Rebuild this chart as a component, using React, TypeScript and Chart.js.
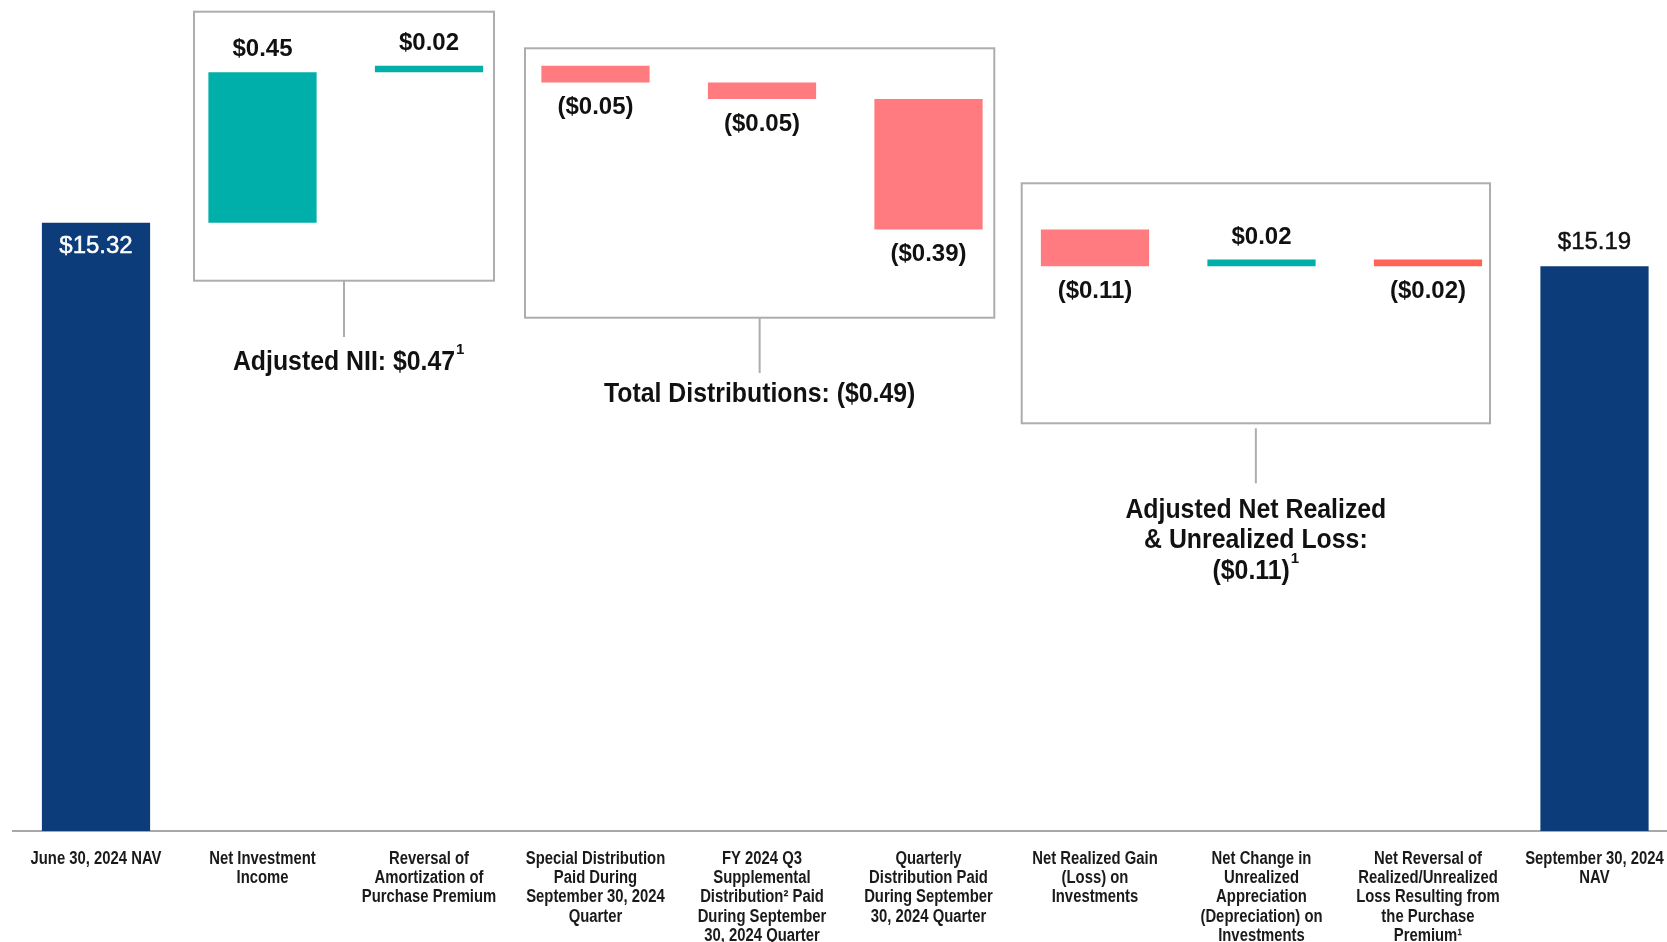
import React, { useEffect, useRef } from "react";
import { Chart, registerables } from "chart.js";

Chart.register(...registerables);

// ---------- data ----------
const categories: string[][] = [
  ["June 30, 2024 NAV"],
  ["Net Investment", "Income"],
  ["Reversal of", "Amortization of", "Purchase Premium"],
  ["Special Distribution", "Paid During", "September 30, 2024", "Quarter"],
  ["FY 2024 Q3", "Supplemental", "Distribution² Paid", "During September", "30, 2024 Quarter"],
  ["Quarterly", "Distribution Paid", "During September", "30, 2024 Quarter"],
  ["Net Realized Gain", "(Loss) on", "Investments"],
  ["Net Change in", "Unrealized", "Appreciation", "(Depreciation) on", "Investments"],
  ["Net Reversal of", "Realized/Unrealized", "Loss Resulting from", "the Purchase", "Premium¹"],
  ["September 30, 2024", "NAV"],
];
const startNav = 15.32;
const endNav = 15.19;
const changes = [0.45, 0.02, -0.05, -0.05, -0.39, -0.11, 0.02, -0.02];
const valueLabels = ["$15.32", "$0.45", "$0.02", "($0.05)", "($0.05)", "($0.39)", "($0.11)", "$0.02", "($0.02)", "$15.19"];
const barColors = ["#0D3C7A", "#00AFA9", "#00AFA9", "#FF7B7F", "#FF7B7F", "#FF7B7F", "#FF7B7F", "#00AFA9", "#FF6356", "#0D3C7A"];
const groupTitles: string[][] = [
  ["Adjusted NII: $0.47"],
  ["Total Distributions: ($0.49)"],
  ["Adjusted Net Realized", "& Unrealized Loss:", "($0.11)"],
];
const groupSuperscripts = ["1", "", "1"];

// ---------- layout (pixels) ----------
const W = 1690;
const H = 942;
const boxes = [
  { l: 194, r: 494, t: 11.7, b: 280.7, lineTop: 280.7, lineBottom: 337, textY: 362.5, lineGap: 30.5, centerGroup: false },
  { l: 525, r: 994.3, t: 48.3, b: 317.7, lineTop: 317.7, lineBottom: 373, textY: 394.5, lineGap: 30.5, centerGroup: false },
  { l: 1021.7, r: 1490, t: 183.3, b: 423.3, lineTop: 428.3, lineBottom: 483.3, textY: 510.5, lineGap: 30.5, centerGroup: true },
];

// build floating bar ranges from the named arrays
function buildRanges(): (number | [number, number])[] {
  const out: (number | [number, number])[] = [startNav];
  let level = startNav;
  for (const c of changes) {
    const next = Math.round((level + c) * 100) / 100;
    out.push([level, next]);
    level = next;
  }
  out.push(endNav);
  return out;
}

const LABEL_FONT = "'Liberation Sans', Arial, sans-serif";
const TITLE_SCALE = 0.92;
const TICK_SCALE = 0.825;

function drawScaledText(ctx: CanvasRenderingContext2D, text: string, x: number, y: number, sx: number, align: CanvasTextAlign) {
  ctx.save();
  ctx.translate(x, y);
  ctx.scale(sx, 1);
  ctx.textAlign = align;
  ctx.fillText(text, 0, 0);
  ctx.restore();
}

const overlayPlugin = {
  id: "waterfallOverlay",
  afterDatasetsDraw(chart: any) {
    const ctx = chart.ctx as CanvasRenderingContext2D;
    const meta = chart.getDatasetMeta(0);
    const xScale = chart.scales.x;
    ctx.save();

    // category labels, placed at the x scale's tick positions
    ctx.fillStyle = "#1A1A1A";
    ctx.textBaseline = "middle";
    ctx.font = `bold 18px ${LABEL_FONT}`;
    categories.forEach((lines, i) => {
      const x = xScale.getPixelForTick(i);
      lines.forEach((line, li) => {
        drawScaledText(ctx, line, x, xScale.top + 28 + li * 19.2, TICK_SCALE, "center");
      });
    });

    // value labels
    meta.data.forEach((el: any, i: number) => {
      const top = Math.min(el.y, el.base);
      const bottom = Math.max(el.y, el.base);
      ctx.textAlign = "center";
      ctx.textBaseline = "middle";
      const last = meta.data.length - 1;
      if (i === 0 || i === last) {
        ctx.font = `24px ${LABEL_FONT}`;
        const color = i === 0 ? "#FFFFFF" : "#111111";
        const y = i === 0 ? top + 24 : top - 23.5;
        ctx.fillStyle = color;
        ctx.strokeStyle = color;
        ctx.lineWidth = 0.45;
        ctx.fillText(valueLabels[i], el.x, y);
        ctx.strokeText(valueLabels[i], el.x, y);
      } else {
        const c = changes[i - 1];
        ctx.font = `bold 24px ${LABEL_FONT}`;
        ctx.fillStyle = "#111111";
        if (c >= 0) ctx.fillText(valueLabels[i], el.x, top - 22.5);
        else ctx.fillText(valueLabels[i], el.x, bottom + 25);
      }
    });

    // group boxes, connectors, titles
    boxes.forEach((b, gi) => {
      ctx.strokeStyle = "#ADADAD";
      ctx.lineWidth = 2;
      ctx.strokeRect(b.l, b.t, b.r - b.l, b.b - b.t);
      const cx = (b.l + b.r) / 2;
      ctx.beginPath();
      ctx.moveTo(cx, b.lineTop);
      ctx.lineTo(cx, b.lineBottom);
      ctx.stroke();

      const lines = groupTitles[gi];
      const sup = groupSuperscripts[gi];
      ctx.fillStyle = "#111111";
      ctx.textBaseline = "middle";
      lines.forEach((line, li) => {
        const y = b.textY + li * b.lineGap;
        ctx.font = `bold 27px ${LABEL_FONT}`;
        const isLast = li === lines.length - 1;
        if (isLast && sup) {
          const wMain = ctx.measureText(line).width * TITLE_SCALE;
          ctx.font = `bold 15px ${LABEL_FONT}`;
          const wSup = ctx.measureText(sup).width;
          const startX = b.centerGroup ? cx - (wMain + wSup + 1) / 2 : cx - wMain / 2;
          ctx.font = `bold 27px ${LABEL_FONT}`;
          drawScaledText(ctx, line, startX, y, TITLE_SCALE, "left");
          ctx.font = `bold 15px ${LABEL_FONT}`;
          ctx.textAlign = "left";
          ctx.fillText(sup, startX + wMain + 1, y - 13);
        } else {
          drawScaledText(ctx, line, cx, y, TITLE_SCALE, "center");
        }
      });
    });
    ctx.restore();
  },
};

export default function App() {
  const canvasRef = useRef<HTMLCanvasElement | null>(null);

  useEffect(() => {
    const canvas = canvasRef.current;
    if (!canvas) return;
    const chart = new Chart(canvas, {
      type: "bar",
      data: {
        labels: categories.map((c) => c.join(" ")),
        datasets: [
          {
            data: buildRanges() as any,
            backgroundColor: barColors,
            borderWidth: 0,
            barPercentage: 0.65,
            categoryPercentage: 1,
          },
        ],
      },
      options: {
        responsive: false,
        animation: false,
        devicePixelRatio: 1,
        layout: { padding: { left: 12.75, right: 12.25, top: 11, bottom: 0 } },
        plugins: {
          legend: { display: false },
          tooltip: { enabled: false },
          title: { display: false },
        },
        scales: {
          x: {
            grid: { display: false, drawTicks: false },
            border: { display: true, color: "#A8A8A8", width: 2 },
            ticks: { display: false, autoSkip: false },
            afterFit: (scale: any) => {
              scale.height = 111;
              scale.paddingLeft = 0;
              scale.paddingRight = 0;
            },
          },
          y: {
            display: false,
            min: 13.5,
            max: 15.9536,
          },
        },
      },
      plugins: [overlayPlugin],
    });
    return () => chart.destroy();
  }, []);

  return (
    <div
      style={{
        position: "fixed",
        left: 0,
        top: 0,
        width: 1667,
        height: 942,
        overflow: "hidden",
        background: "#FFFFFF",
      }}
    >
      <canvas ref={canvasRef} width={W} height={H} style={{ width: W, height: H, display: "block" }} />
    </div>
  );
}
